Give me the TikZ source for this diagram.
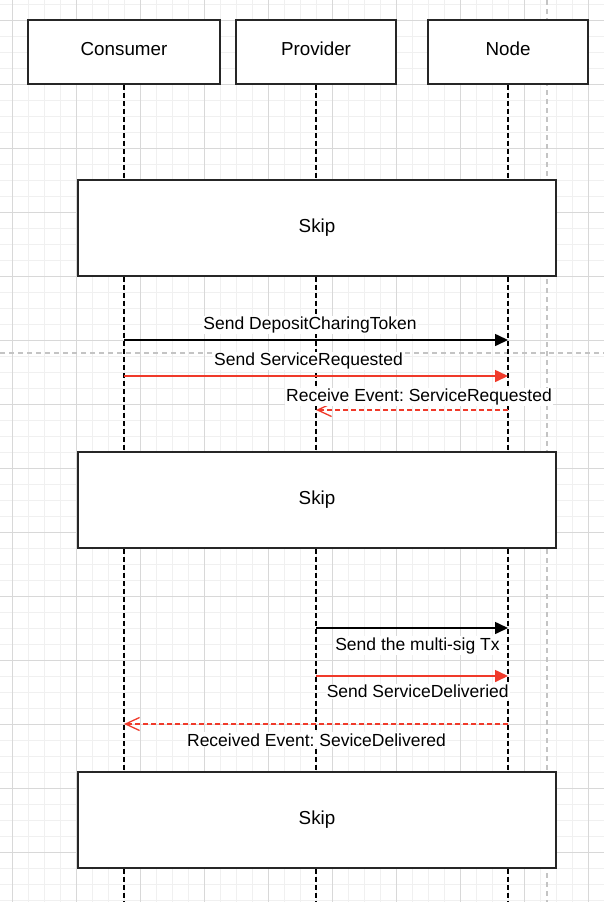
\documentclass[tikz,border=0pt]{standalone}
\usepackage{fontspec}
\setmainfont{Liberation Sans}
\usetikzlibrary{arrows.meta}
\definecolor{minorgrid}{HTML}{F0F0F0}
\definecolor{majorgrid}{HTML}{D8D8D8}
\definecolor{pagebreak}{HTML}{C4C4C4}
\definecolor{arrred}{HTML}{F03A2A}
\frenchspacing
\begin{document}
\begin{tikzpicture}[x=1pt,y=-1pt,
  txt/.style={font=\fontsize{17.5}{21}\selectfont},
  htxt/.style={font=\fontsize{18.8}{22}\selectfont},
  box/.style={draw=black!85, line width=1.6pt, fill=white, inner sep=0pt, htxt},
  lbl/.style={txt, inner sep=1pt, fill=white, anchor=base},
  life/.style={draw=black, line width=1.6pt, dash pattern=on 5pt off 3pt},
  msg/.style={line width=1.6pt, -{Triangle[length=13pt,width=12pt]}},
  ret/.style={line width=1.3pt, dash pattern=on 5pt off 3pt, -{Straight Barb[length=14pt,width=13pt]}}
]
\useasboundingbox (0,0) rectangle (604,902);
\fill[white] (0,0) rectangle (604,902);
% grid
\foreach \x in {12,28,...,600} \draw[minorgrid, line width=0.8pt] (\x,0) -- (\x,902);
\foreach \y in {4,20,...,900} \draw[minorgrid, line width=0.8pt] (0,\y) -- (604,\y);
\foreach \x in {12,76,...,600} \draw[majorgrid, line width=1pt] (\x,0) -- (\x,902);
\foreach \y in {20,84,...,900} \draw[majorgrid, line width=1pt] (0,\y) -- (604,\y);
\draw[pagebreak, line width=1.2pt, dash pattern=on 5pt off 4pt] (547,0) -- (547,902);
\draw[pagebreak, line width=1.2pt, dash pattern=on 5pt off 4pt] (0,353) -- (604,353);
% headers
\node[box, minimum width=192pt, minimum height=64pt] (consumer) at (124,52) {};
\node[box, minimum width=160pt, minimum height=64pt] (provider) at (316,52) {};
\node[box, minimum width=160pt, minimum height=64pt] (node) at (508,52) {};
\node[htxt, anchor=base] (tc) at (124,55.8) {Consumer};
\node[htxt, anchor=base] (tp) at (316,55.8) {Provider};
\node[htxt, anchor=base] (tn) at (508,55.8) {Node};
% lifelines
\coordinate (cend) at (124,902);
\coordinate (pend) at (316,902);
\coordinate (nend) at (508,902);
\draw[life] (consumer.south) -- (cend);
\draw[life] (provider.south) -- (pend);
\draw[life] (node.south) -- (nend);
% skip boxes
\node[box, minimum width=478pt, minimum height=96pt] (skip1) at (317,228) {Skip};
\node[box, minimum width=478pt, minimum height=96pt] (skip2) at (317,500) {Skip};
\node[box, minimum width=478pt, minimum height=96pt] (skip3) at (317,820) {Skip};
% message points
\coordinate (c1) at (124,340); \coordinate (n1) at (508,340);
\coordinate (c2) at (124,376); \coordinate (n2) at (508,376);
\coordinate (n3) at (508,410); \coordinate (p3) at (316,410);
\coordinate (p4) at (316,628); \coordinate (n4) at (508,628);
\coordinate (p5) at (316,676); \coordinate (n5) at (508,676);
\coordinate (n6) at (508,724); \coordinate (c6) at (124,724);
% messages
\draw[msg, black] (c1) -- (n1);
\draw[msg, arrred] (c2) -- (n2);
\draw[ret, arrred] (n3) -- (p3);
\draw[msg, black] (p4) -- (n4);
\draw[msg, arrred] (p5) -- (n5);
\draw[ret, arrred] (n6) -- (c6);
% labels
\node[lbl] (l1) at (310,329.5) {Send DepositCharingToken};
\node[lbl] (l2) at (308.5,365.7) {Send ServiceRequested};
\node[lbl] (l3) at (419,401.7) {Receive Event: ServiceRequested};
\node[lbl] (l4) at (417.5,650) {Send the multi-sig Tx};
\node[lbl] (l5) at (417.7,697.7) {Send ServiceDeliveried};
\node[lbl] (l6) at (316.5,746) {Received Event: SeviceDelivered};
\end{tikzpicture}
\end{document}
